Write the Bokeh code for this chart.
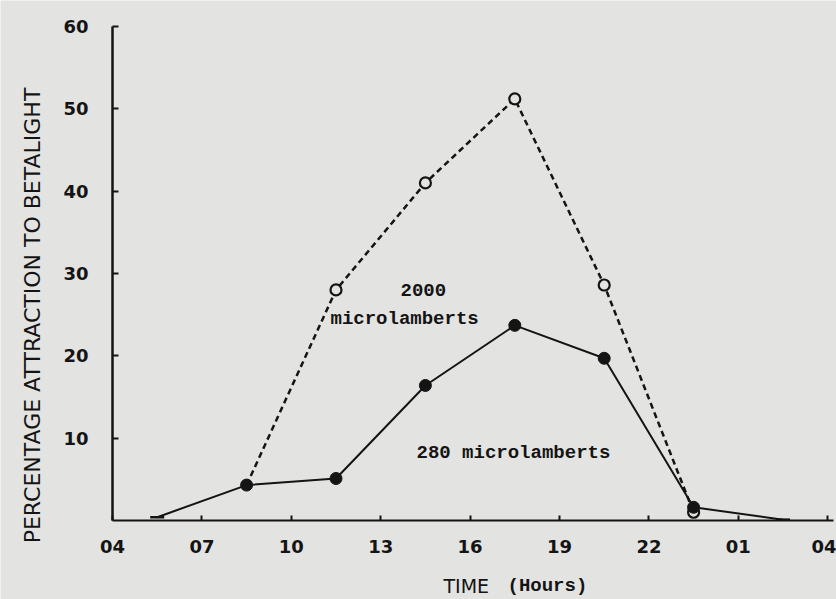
import math
from bokeh.plotting import figure
from bokeh.models import Label, FixedTicker, Range1d, LinearAxis
from bokeh.embed import file_html
from bokeh.resources import INLINE

# ---- data ----
hours_280 = [8.5, 11.5, 14.5, 17.5, 20.5, 23.5]
pct_280 = [4.3, 5.1, 16.4, 23.7, 19.7, 1.6]
ends_hours_280 = [5.5, 26.5]
ends_pct_280 = [0.4, 0.1]
line_hours_280 = [5.5, 8.5, 11.5, 14.5, 17.5, 20.5, 23.5, 26.5]
line_pct_280 = [0.4, 4.3, 5.1, 16.4, 23.7, 19.7, 1.6, 0.1]

hours_2000 = [8.5, 11.5, 14.5, 17.5, 20.5, 23.5]
pct_2000 = [4.3, 28.0, 41.0, 51.2, 28.6, 1.0]

x_ticks = [4, 7, 10, 13, 16, 19, 22, 25, 28]
x_tick_labels = ["04", "07", "10", "13", "16", "19", "22", "01", "04"]
y_ticks = [10, 20, 30, 40, 50, 60]

BG = "#e3e3e1"
INK = "#141414"
MONO = "Liberation Mono"
SANS = "DejaVu Sans"

W, H = 836, 599
PX_PER_H = 29.8
PX_PER_PCT = 8.233
X0 = 4 - 112 / PX_PER_H
X1 = X0 + W / PX_PER_H
Y1 = 60 + 26 / PX_PER_PCT
Y0 = Y1 - H / PX_PER_PCT

p = figure(width=W, height=H, output_backend="svg", toolbar_location=None,
           x_range=Range1d(X0, X1), y_range=Range1d(Y0, Y1),
           x_axis_location=None, y_axis_location=None,
           min_border=0, min_border_left=0, min_border_right=0,
           min_border_top=0, min_border_bottom=0)
p.background_fill_color = BG
p.border_fill_color = BG
p.outline_line_color = None
p.xgrid.visible = False
p.ygrid.visible = False

xaxis = LinearAxis(fixed_location=0, bounds=(4, 28.2), ticker=FixedTicker(ticks=x_ticks),
                   major_label_overrides={t: l for t, l in zip(x_ticks, x_tick_labels)})
yaxis = LinearAxis(fixed_location=4, bounds=(0, 60), ticker=FixedTicker(ticks=y_ticks))
for ax in (xaxis, yaxis):
    ax.axis_line_color = INK
    ax.major_tick_line_color = INK
    ax.major_tick_in = 6
    ax.major_tick_out = 0
    ax.minor_tick_line_color = None
    ax.major_label_text_font = "DejaVu Sans"
    ax.major_label_text_font_style = "bold"
    ax.major_label_text_font_size = "18px"
    ax.major_label_text_color = INK
xaxis.axis_line_width = 2
yaxis.axis_line_width = 2.5
xaxis.major_tick_line_width = 2
yaxis.major_tick_line_width = 2
xaxis.major_tick_in = 5
xaxis.major_label_standoff = 20
yaxis.major_label_standoff = 24
p.add_layout(xaxis, "below")
p.add_layout(yaxis, "left")

# 2000 microlamberts (dashed, open circles)
p.line(hours_2000, pct_2000, line_color=INK, line_width=2.5, line_dash="6 4")
p.scatter(hours_2000[1:], pct_2000[1:], marker="circle", size=11,
          fill_color=BG, line_color=INK, line_width=2.2)

# 280 microlamberts (solid, filled circles)
p.line(line_hours_280, line_pct_280, line_color=INK, line_width=2)
p.scatter(hours_280, pct_280, marker="circle", size=12, fill_color=INK, line_color=INK)
p.scatter(ends_hours_280, ends_pct_280, marker="dash", size=14, line_color=INK, line_width=2.5)


# annotations, placed by page pixel -> data
def txt(px, py, s, font, size, style="bold", angle=0.0, align="left"):
    p.add_layout(Label(x=X0 + px / PX_PER_H, y=Y1 - py / PX_PER_PCT, text=s,
                       text_font=font, text_font_size=size,
                       text_font_style=style, text_color=INK, angle=angle,
                       text_align=align, text_baseline="middle"))


txt(400, 289, "2000", MONO, "19px")
txt(330, 318, "microlamberts", MONO, "19px")
txt(416, 452, "280 microlamberts", MONO, "19px")
txt(443, 585, "TIME", SANS, "19px", style="normal")
txt(507, 585, "(Hours)", MONO, "19px")
txt(32, 315, "PERCENTAGE ATTRACTION TO BETALIGHT", SANS, "22px",
    style="normal", angle=math.pi / 2, align="center")

open("out.html", "w").write(file_html(p, INLINE))
